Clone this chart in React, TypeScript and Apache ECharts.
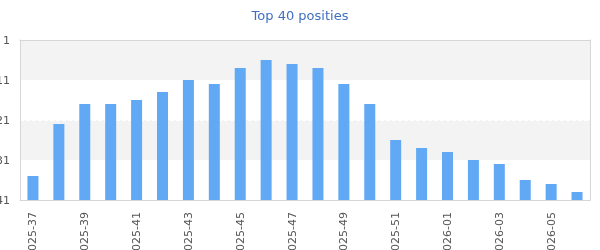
import React, { useEffect, useRef } from "react";
import * as echarts from "echarts";

const weeks: string[] = [
  "2025-37", "2025-38", "2025-39", "2025-40", "2025-41", "2025-42", "2025-43", "2025-44",
  "2025-45", "2025-46", "2025-47", "2025-48", "2025-49", "2025-50", "2025-51", "2025-52",
  "2026-01", "2026-02", "2026-03", "2026-04", "2026-05", "2026-06",
];
const positions: number[] = [35, 22, 17, 17, 16, 14, 11, 12, 8, 6, 7, 8, 12, 17, 26, 28, 29, 31, 32, 36, 37, 39];
const lowestPosition = 41;
const highestPosition = 1;

const borderLine = { show: true, onZero: false, lineStyle: { color: "#d6d6d6", width: 1 } };

export default function App() {
  const ref = useRef<HTMLDivElement>(null);
  useEffect(() => {
    if (!ref.current) return;
    const chart = echarts.init(ref.current, null, { renderer: "svg" });
    chart.setOption({
      animation: false,
      title: {
        text: "Top 40 posities",
        left: "center",
        top: 4,
        textStyle: { color: "#3f6fc3", fontSize: 13, fontWeight: "normal", fontFamily: "DejaVu Sans" },
      },
      grid: {
        left: 20, right: 10, top: 40, bottom: 50,
        containLabel: false,
        outerBoundsMode: "none",
      },
      xAxis: [
        {
          type: "category",
          data: weeks,
          axisLine: borderLine,
          axisTick: { show: false },
          axisLabel: { interval: 1, rotate: 90, color: "#555", fontSize: 11, fontFamily: "DejaVu Sans", margin: 12 },
        },
        {
          type: "category",
          position: "top",
          data: weeks,
          axisLine: borderLine,
          axisTick: { show: false },
          axisLabel: { show: false },
          splitLine: { show: false },
        },
      ],
      yAxis: [
        {
          type: "value",
          inverse: true,
          min: highestPosition,
          max: lowestPosition,
          interval: 10,
          axisLine: borderLine,
          axisTick: { show: false },
          axisLabel: { color: "#555", fontSize: 11, fontFamily: "DejaVu Sans", margin: 10 },
          splitLine: { show: true, showMinLine: false, showMaxLine: false, lineStyle: { color: "#ffffff", type: "dashed", width: 1 } },
          splitArea: { show: true, areaStyle: { color: ["#f3f3f3", "#ffffff"] } },
        },
        {
          type: "value",
          position: "right",
          inverse: true,
          min: highestPosition,
          max: lowestPosition,
          interval: 10,
          axisLine: borderLine,
          axisTick: { show: false },
          axisLabel: { show: false },
          splitLine: { show: false },
          splitArea: { show: false },
        },
      ],
      series: [
        {
          type: "bar",
          stack: "pos",
          data: positions,
          barWidth: 11,
          itemStyle: { color: "transparent" },
          silent: true,
        },
        {
          type: "bar",
          stack: "pos",
          data: positions.map((p) => lowestPosition - p),
          barWidth: 11,
          itemStyle: { color: "#61a9f4" },
        },
      ],
    });
    return () => chart.dispose();
  }, []);
  return <div ref={ref} style={{ position: "fixed", left: 0, top: 0, width: 600, height: 250 }} />;
}
